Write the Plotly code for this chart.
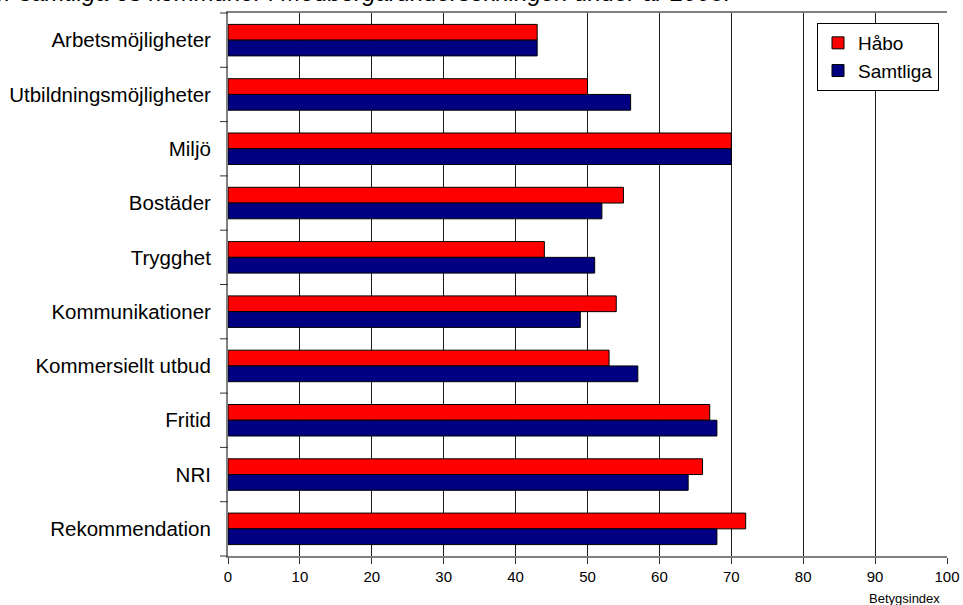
import plotly.graph_objects as go

categories = ["Arbetsmöjligheter", "Utbildningsmöjligheter", "Miljö", "Bostäder", "Trygghet",
              "Kommunikationer", "Kommersiellt utbud", "Fritid", "NRI", "Rekommendation"]
habo = [43, 50, 70, 55, 44, 54, 53, 67, 66, 72]
samtliga = [43, 56, 70, 52, 51, 49, 57, 68, 64, 68]
x_ticks = list(range(0, 101, 10))

W, H = 963, 605
L, R, T, B = 228, 16, 13, 49
PW, PH = W - L - R, H - T - B

fig = go.Figure()
fig.add_trace(go.Bar(y=categories, x=habo, name="Håbo", orientation="h",
                     marker=dict(color="#FF0000", line=dict(color="#000000", width=1))))
fig.add_trace(go.Bar(y=categories, x=samtliga, name="Samtliga", orientation="h",
                     marker=dict(color="#000080", line=dict(color="#000000", width=1))))

font = "Liberation Sans, Arial, sans-serif"
fig.update_layout(
    width=W, height=H,
    margin=dict(l=L, r=R, t=T, b=B, autoexpand=False),
    paper_bgcolor="white", plot_bgcolor="white",
    barmode="group", bargap=0.42, bargroupgap=0,
    font=dict(family=font, size=20, color="black"),
    showlegend=True,
    legend=dict(x=(939 - L) / PW, y=1 - (23 - T) / PH,
                xanchor="right", yanchor="top",
                bgcolor="white", bordercolor="black", borderwidth=1,
                font=dict(size=19), itemwidth=30, tracegroupgap=0),
)
fig.update_xaxes(range=[0, 100], tickvals=x_ticks, ticktext=[str(v) for v in x_ticks],
                 showgrid=True, gridcolor="#1a1a1a", gridwidth=1, automargin=False,
                 showline=True, linecolor="#808080", linewidth=2, mirror=True,
                 ticks="outside", ticklen=6, tickcolor="#333333",
                 tickfont=dict(size=15), zeroline=False)
fig.update_yaxes(autorange="reversed", showline=True, linecolor="#808080", linewidth=2,
                 automargin=False,
                 ticks="", tickfont=dict(size=20.5), ticklabelstandoff=11, showgrid=False)

# tick marks between categories on the y axis
n = len(categories)
for i in range(n + 1):
    fig.add_shape(type="line", xref="paper", yref="paper",
                  x0=-8 / PW, x1=0, y0=i / n, y1=i / n,
                  line=dict(color="#333333", width=1))

fig.add_annotation(text="Betygsindex", xref="paper", yref="paper",
                   x=(942 - L) / PW, y=-(598 - (H - B)) / PH,
                   xanchor="right", yanchor="middle", showarrow=False,
                   font=dict(size=13, family=font))
fig.add_annotation(text="<i>för samtliga 65 kommuner i Medborgarundersökningen under år 2008.</i>",
                   xref="paper", yref="paper",
                   x=(733 - L) / PW, y=1 + (T - 8) / PH,
                   xanchor="right", yanchor="bottom", showarrow=False,
                   font=dict(size=24, family=font))

fig.write_html("out.html", post_script="document.body.style.margin='0';",
               config={"displayModeBar": False})
